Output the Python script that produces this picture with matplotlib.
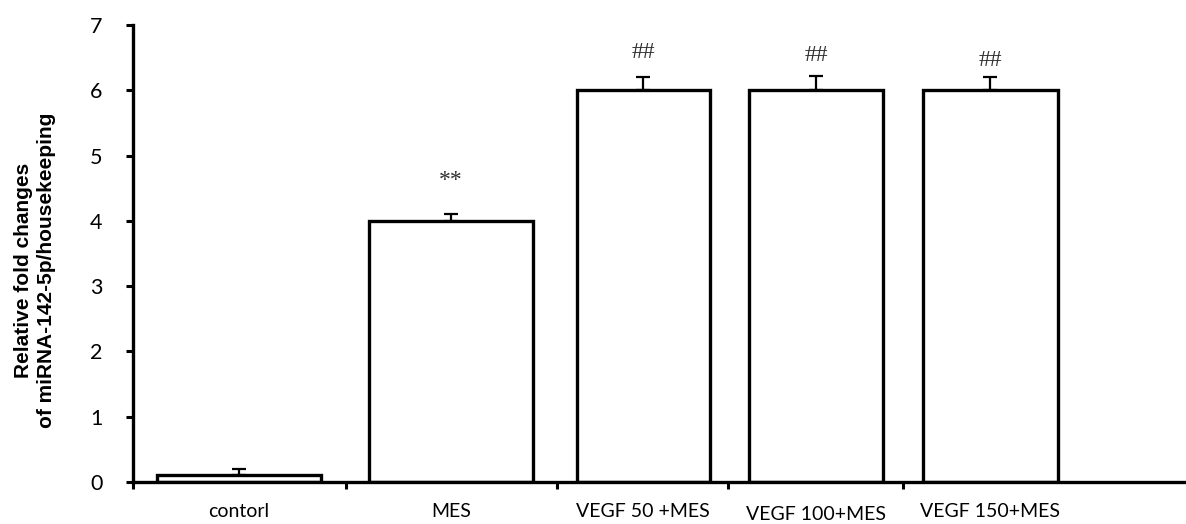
import matplotlib
matplotlib.use("Agg")
import matplotlib.pyplot as plt

# ---- data ----
categories = ["contorl", "MES", "VEGF 50 +MES", "VEGF 100+MES", "VEGF 150+MES"]
values = [0.1, 4.0, 6.0, 6.0, 6.0]
errors = [0.1, 0.1, 0.2, 0.22, 0.2]
marks = ["", "**", "##", "##", "##"]
mark_y = [None, 4.62, 6.58, 6.54, 6.46]
yticks = [0, 1, 2, 3, 4, 5, 6, 7]

# ---- layout (positions / widths in axis units) ----
centers = [1.06, 3.18, 5.10, 6.83, 8.57]
widths = [1.64, 1.64, 1.33, 1.34, 1.35]
tick_pos = [0.0, 2.13, 4.24, 5.95, 7.70]
label_off = [-25.5, -25.5, -25.5, -27.0, -25.5]  # baseline offsets in points

fig = plt.figure(figsize=(11.86, 5.24), dpi=100)
ax = fig.add_axes([133 / 1186, 1 - 482 / 524, 1 - 133 / 1186, (482 - 25) / 524])

ax.bar(centers, values, width=widths, color="white", edgecolor="black",
       linewidth=2.4, zorder=2)
ax.errorbar(centers, values, yerr=[[0] * len(errors), errors], fmt="none",
            ecolor="black", elinewidth=1.6, capsize=4.8, capthick=1.6, zorder=3)

for c, m, my in zip(centers, marks, mark_y):
    if m:
        ax.text(c, my, m, ha="center", va="center", fontsize=17,
                family="Liberation Serif", color="#303030")

ax.set_xlim(0, 10.53)
ax.set_ylim(0, 7)
ax.set_yticks(yticks)
ax.set_yticklabels([str(t) for t in yticks], fontsize=15.5, family="Lato")
ax.set_xticks(tick_pos)
ax.set_xticklabels([])
for c, lab, off in zip(centers, categories, label_off):
    ax.annotate(lab, xy=(c, 0), xycoords="data", xytext=(0, off),
                textcoords="offset points", ha="center", va="baseline",
                fontsize=14, family="Lato")

for s in ["top", "right"]:
    ax.spines[s].set_visible(False)
for s in ["left", "bottom"]:
    ax.spines[s].set_linewidth(2.4)
ax.tick_params(axis="y", direction="out", length=5, width=2.2, pad=17)
ax.tick_params(axis="x", direction="out", length=5, width=2.2)

fig.text(35 / 1186, 1 - 270 / 524,
         "Relative fold changes\nof miRNA-142-5p/housekeeping",
         rotation=90, ha="center", va="center", multialignment="center",
         fontsize=15, fontweight="bold", family="Liberation Sans",
         linespacing=1.3)

fig.savefig("out.png", dpi=100)
